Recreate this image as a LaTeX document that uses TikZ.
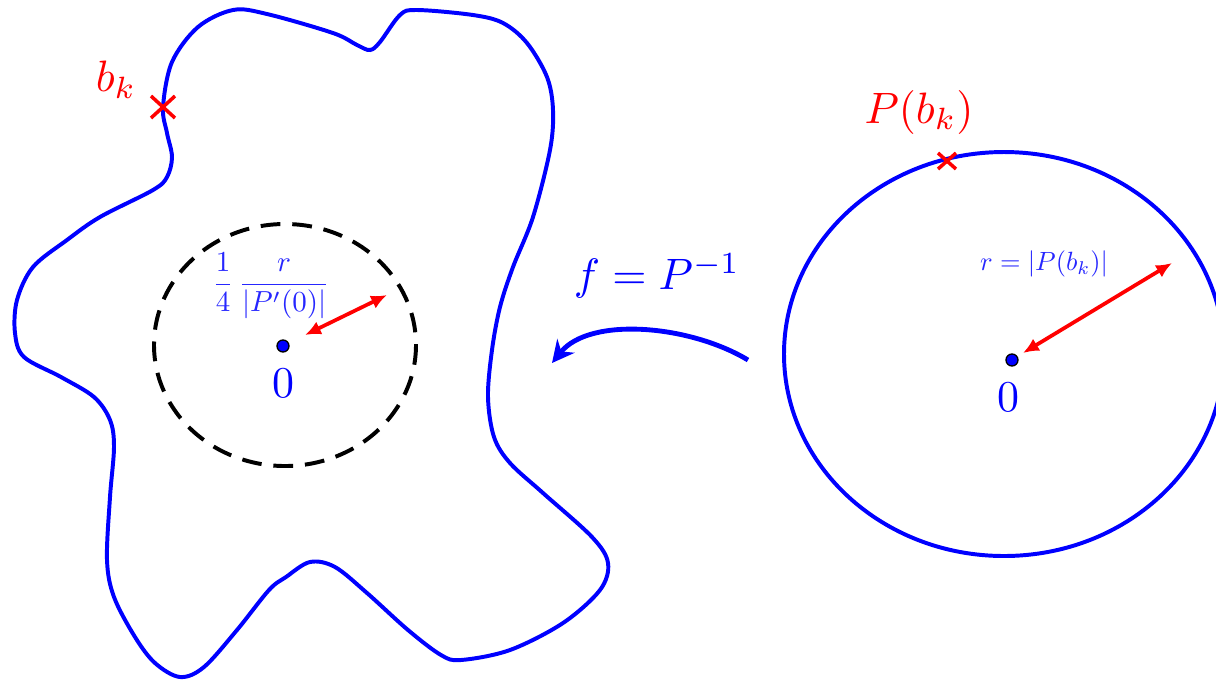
\documentclass[tikz,border=0pt]{standalone}
\usepackage{amssymb,amsmath}
\usepackage{tikz}
\usetikzlibrary{calc}
\usetikzlibrary{arrows.meta}
\tikzset{
    bluecurve/.style={
        line width=0.9pt,
        blue
    },
    % dashed small circle
    dashcircle/.style={
        line width=0.9pt,
        black,
        dash pattern=on 4.5pt off 2.7pt
    },
    redarrow/.style={
        line width=0.85pt,
        red,
        <->,
        >={Latex[length=3.6pt, width=3.2pt]}
    },
    bluearrow/.style={
        line width=1.1pt,
        blue,
        ->,
        >={Stealth[length=5pt, width=5pt]}
    },
    redcross/.style={
        line width=0.8pt,
        red
    },
    smalllabel/.style={
        blue!85,
        scale=0.6
    }
}

\begin{document}
\begin{tikzpicture}[x=0.008cm, y=-0.008cm]
        \useasboundingbox (0,0) rectangle (1216,680);

        \path
        (163,107) coordinate (bk)
        (283,346) coordinate (o1)
        (1012,360) coordinate (o2)
        (947,161) coordinate (pbk)
        (305,335) coordinate (a1)
        (387,295) coordinate (a2)
        (1023,353) coordinate (a3)
        (1172,263) coordinate (a4)
        (748,360) coordinate (f1)
        (552,363) coordinate (f2)
        ;

        % the domain
        \draw[bluecurve] plot[smooth cycle, tension=0.55] coordinates {
          (bk) (172,62) (198,27) (233,10) (267,14) (333,33) (357,45)
          (370,50) (380,42) (400,15) (417,10) (473,15) (503,23) (527,43)
          (547,77) (553,110) (550,150) (533,217) (513,267) (500,307)
          (492,350) (488,397) (494,437) (510,463) (543,493) (592,537)
          (608,563) (600,590) (563,623) (510,650) (461,660) (441,655)
          (408,630) (367,593) (335,567) (310,562) (286,577) (269,590)
          (237,630) (204,667) (180,677) (155,663) (135,637) (114,597)
          (107,560) (110,497) (114,447) (110,420) (94,397) (61,377)
          (24,357) (15,333) (17,300) (33,267) (67,240) (100,217)
          (153,190) (167,177) (172,157) (167,133)};

        \draw[dashcircle] (285,345) circle[x radius=131, y radius=121];
        \draw[bluecurve] (1004,354) circle[x radius=220, y radius=202];

        \draw[redcross] ($(bk)+(-12,-11)$) -- ($(bk)+(12,11)$);
        \draw[redcross] ($(bk)+(-12,11)$) -- ($(bk)+(12,-11)$);
        \draw[redcross] ($(pbk)+(-9,-8)$) -- ($(pbk)+(9,8)$);
        \draw[redcross] ($(pbk)+(-9,8)$) -- ($(pbk)+(9,-8)$);

        \draw[redarrow] (a1) to (a2);
        \draw[redarrow] (a3) to (a4);
        \draw[bluearrow] (f1) .. controls (690,325) and (590,316) .. (f2);

        \filldraw[fill=blue, draw=black, line width=0.3pt] (o1) circle[radius=6];
        \filldraw[fill=blue, draw=black, line width=0.3pt] (o2) circle[radius=6];

        \draw (116,80) node[red] (bklabel) {$b_k$};
        \draw (919,112) node[red] (pbklabel) {$P(b_k)$};
        \draw (283,383) node[blue] (zero1) {$0$};
        \draw (1008,397) node[blue] (zero2) {$0$};
        \draw (657,276) node[blue] (flabel) {$f = P^{-1}$};
        \draw (271,286) node[smalllabel, scale=1.1] (rlabel1) {$\displaystyle\frac{1}{4}\,\frac{r}{|P'(0)|}$};
        \draw (1044,264) node[smalllabel] (rlabel2) {$r = |P(b_k)|$};
\end{tikzpicture}
\end{document}
